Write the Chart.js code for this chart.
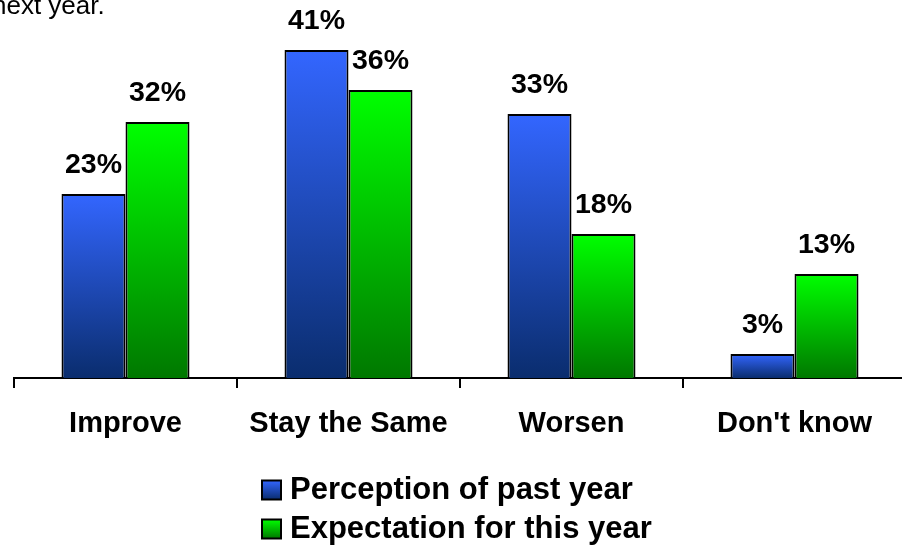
<!DOCTYPE html>
<html>
<head>
<meta charset="utf-8">
<script src="https://cdn.jsdelivr.net/npm/chart.js@4"></script>
<style>
  html, body { margin: 0; padding: 0; background: #fff; overflow: hidden; }
  #wrap { position: absolute; left: 0; top: 0; width: 910px; height: 548px; }
</style>
</head>
<body>
<div id="wrap"><canvas id="c"></canvas></div>
<script>
const categories = ['Improve', 'Stay the Same', 'Worsen', "Don't know"];
const pastYear = [23, 41, 33, 3];
const thisYear = [32, 36, 18, 13];
const seriesLabels = ['Perception of past year', 'Expectation for this year'];
const headerText = 'next year.';

const FONT = '"Liberation Sans", Arial, sans-serif';
const BLUE = ['#3366ff', '#0a2d6e'];
const GREEN = ['#00ff00', '#007800'];

function gradientFill(stops) {
  return (context) => {
    const chart = context.chart;
    const area = chart.chartArea;
    if (!area || context.type !== 'data') return stops[1];
    const v = context.parsed ? context.parsed.y : context.raw;
    const yTop = chart.scales.y.getPixelForValue(v);
    const yBase = chart.scales.y.getPixelForValue(0);
    if (!isFinite(yTop) || Math.abs(yBase - yTop) < 1) return stops[0];
    const g = chart.ctx.createLinearGradient(0, yTop, 0, yBase);
    g.addColorStop(0, stops[0]);
    g.addColorStop(1, stops[1]);
    return g;
  };
}

const extras = {
  id: 'extras',
  afterDatasetsDraw(chart) {
    const c = chart.ctx;
    c.save();
    c.fillStyle = '#000';
    c.font = 'bold 28.5px ' + FONT;
    c.textAlign = 'center';
    c.textBaseline = 'middle';
    chart.data.datasets.forEach((ds, i) => {
      const meta = chart.getDatasetMeta(i);
      meta.data.forEach((bar, j) => {
        c.fillText(ds.data[j] + '%', bar.x, bar.y - 29);
      });
    });
    c.restore();
  },
  afterDraw(chart) {
    const c = chart.ctx;
    c.save();
    // header fragment
    c.fillStyle = '#000';
    c.font = '26px ' + FONT;
    c.textAlign = 'left';
    c.textBaseline = 'alphabetic';
    c.fillText(headerText, -8, 14);
    // legend
    const rows = [490, 529];
    const fills = [BLUE, GREEN];
    chart.data.datasets.forEach((ds, i) => {
      const cy = rows[i];
      const bx = 262, size = 19;
      const g = c.createLinearGradient(0, cy - size / 2, 0, cy + size / 2);
      g.addColorStop(0, fills[i][0]);
      g.addColorStop(1, fills[i][1]);
      c.fillStyle = g;
      c.fillRect(bx, cy - size / 2, size, size);
      c.strokeStyle = '#000';
      c.lineWidth = 2;
      c.strokeRect(bx, cy - size / 2, size, size);
      c.fillStyle = '#000';
      c.font = 'bold 31px ' + FONT;
      c.textBaseline = 'middle';
      c.fillText(ds.label, 290, cy);
    });
    c.restore();
  }
};

new Chart(document.getElementById('c'), {
  type: 'bar',
  data: {
    labels: categories,
    datasets: [
      { label: seriesLabels[0], data: pastYear, backgroundColor: gradientFill(BLUE), borderColor: '#000', borderWidth: 2 },
      { label: seriesLabels[1], data: thisYear, backgroundColor: gradientFill(GREEN), borderColor: '#000', borderWidth: 2 }
    ]
  },
  options: {
    responsive: true,
    maintainAspectRatio: false,
    animation: false,
    layout: { padding: { top: 18, left: 14, right: 4, bottom: 0 } },
    datasets: { bar: { categoryPercentage: 0.574, barPercentage: 1.0 } },
    plugins: { legend: { display: false }, tooltip: { enabled: false }, title: { display: false } },
    scales: {
      x: {
        grid: { display: true, drawOnChartArea: false, drawTicks: true, tickLength: 10, color: '#000', lineWidth: 2, offset: true },
        border: { display: true, color: '#000', width: 2 },
        ticks: { color: '#000', font: { family: FONT, size: 29, weight: 'bold' }, padding: 19, maxRotation: 0, autoSkip: false },
        afterFit: (scale) => { scale.height = 170; }
      },
      y: { display: false, min: 0, max: 45 }
    }
  },
  plugins: [extras]
});
</script>
</body>
</html>
